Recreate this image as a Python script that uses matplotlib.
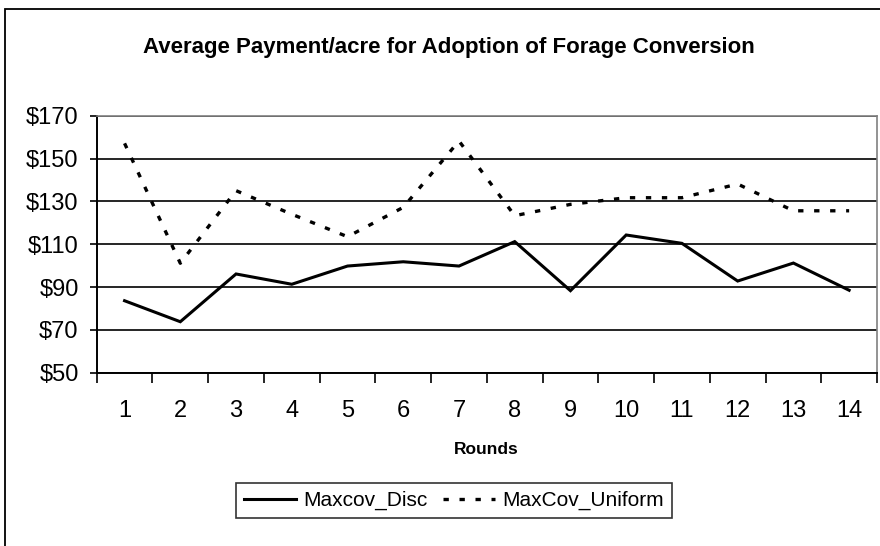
import matplotlib
matplotlib.use("Agg")
import matplotlib.pyplot as plt
from matplotlib.patches import Rectangle
from matplotlib.ticker import FixedLocator, FuncFormatter

rounds = list(range(1, 15))
maxcov_disc = [83.6, 73.8, 96.1, 91.3, 99.8, 101.8, 99.8, 111.2, 88.3, 114.3, 110.4, 92.8, 101.2, 88.5]
maxcov_uniform = [157.1, 101.1, 135.0, 124.0, 113.5, 127.2, 158.2, 123.3, 128.6, 131.7, 131.7, 138.1, 125.6, 125.6]
y_ticks = [50, 70, 90, 110, 130, 150, 170]
series_names = ["Maxcov_Disc", "MaxCov_Uniform"]
title = "Average Payment/acre for Adoption of Forage Conversion"
xlabel = "Rounds"

plt.rcParams['font.family'] = ['Liberation Sans', 'DejaVu Sans']

W, H = 880, 546
fig = plt.figure(figsize=(W / 100, H / 100), dpi=100)
fig.patch.set_facecolor("white")

# outer chart border (cropped at right/bottom)
fig.patches.append(Rectangle((5 / W, -0.1), 2.0, 1 - 9 / H + 0.1, transform=fig.transFigure,
                             fill=False, edgecolor="black", linewidth=1.3, zorder=0))

left, right, top, bottom = 96.7, 877, 115.7, 372.7
ax = fig.add_axes([left / W, 1 - bottom / H, (right - left) / W, (bottom - top) / H])

ax.plot(rounds, maxcov_disc, color="black", linewidth=2.2, solid_joinstyle="miter",
        label=series_names[0], zorder=3)
ax.plot(rounds, maxcov_uniform, color="black", linewidth=2.4, linestyle=(0, (1.6, 3.2)),
        dash_capstyle="butt", label=series_names[1], zorder=3)

ax.set_xlim(0.5, 14.5)
ax.set_ylim(50, 170)
ax.set_yticks(y_ticks)
ax.yaxis.set_major_formatter(FuncFormatter(lambda v, p: f"${int(v)}"))
ax.set_xticks(rounds)
ax.set_xticklabels([str(r) for r in rounds])
ax.xaxis.set_minor_locator(FixedLocator([r + 0.5 for r in [0] + rounds]))
ax.tick_params(axis="x", which="major", length=0, pad=20, labelsize=17)
ax.tick_params(axis="x", which="minor", length=7, width=1.2, direction="out", color="black")
ax.tick_params(axis="y", which="major", length=5, width=1.2, direction="out", pad=8, labelsize=17)

ax.grid(axis="y", color="black", linewidth=1.2, zorder=1)
for s in ["top", "right"]:
    ax.spines[s].set_color("#808080")
    ax.spines[s].set_linewidth(1.2)
for s in ["left", "bottom"]:
    ax.spines[s].set_color("black")
    ax.spines[s].set_linewidth(1.4)

fig.text(449 / W, 1 - 47 / H, title, ha="center", va="center", fontsize=16, fontweight="bold")
fig.text(486 / W, 1 - 450 / H, xlabel, ha="center", va="center", fontsize=12.5, fontweight="bold")

leg = ax.legend(loc="center", bbox_to_anchor=(454 / W, 1 - 500.5 / H), bbox_transform=fig.transFigure,
                ncol=2, frameon=True, fancybox=False, edgecolor="black", fontsize=15,
                handlelength=2.5, handletextpad=0.33, columnspacing=0.75, borderpad=0.4,
                borderaxespad=0)
leg.get_frame().set_linewidth(1.2)

fig.savefig("out.png", dpi=100, facecolor="white")
